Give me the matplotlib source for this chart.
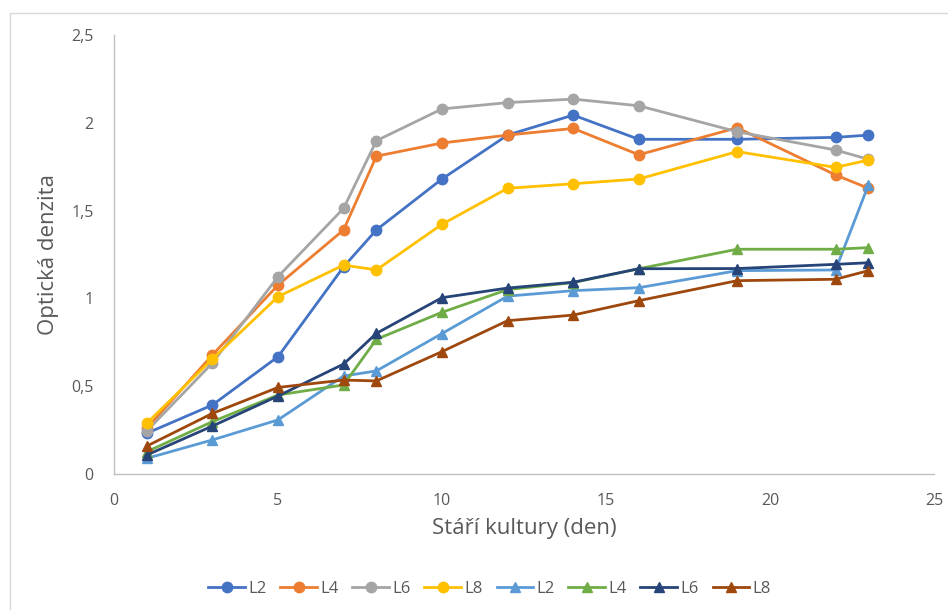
import matplotlib
matplotlib.use("Agg")
import matplotlib.pyplot as plt
from matplotlib.patches import Rectangle

plt.rcParams["font.family"] = ["Open Sans", "DejaVu Sans"]

days = [1, 3, 5, 7, 8, 10, 12, 14, 16, 19, 22, 23]

# circle-marker series
L2_a = [0.232, 0.393, 0.668, 1.180, 1.390, 1.680, 1.930, 2.044, 1.906, 1.906, 1.917, 1.930]
L4_a = [0.260, 0.678, 1.076, 1.390, 1.810, 1.885, 1.930, 1.968, 1.818, 1.972, 1.703, 1.627]
L6_a = [0.245, 0.632, 1.124, 1.513, 1.898, 2.079, 2.115, 2.135, 2.097, 1.949, 1.845, 1.792]
L8_a = [0.289, 0.655, 1.010, 1.190, 1.162, 1.422, 1.627, 1.653, 1.680, 1.836, 1.746, 1.788]

# triangle-marker series
L2_b = [0.089, 0.194, 0.308, 0.558, 0.587, 0.800, 1.013, 1.044, 1.061, 1.158, 1.162, 1.646]
L4_b = [0.127, 0.298, 0.450, 0.507, 0.767, 0.921, 1.050, 1.090, 1.169, 1.280, 1.280, 1.289]
L6_b = [0.108, 0.273, 0.444, 0.626, 0.801, 1.004, 1.059, 1.092, 1.169, 1.170, 1.194, 1.203]
L8_b = [0.159, 0.345, 0.493, 0.535, 0.530, 0.697, 0.873, 0.905, 0.987, 1.101, 1.109, 1.158]

labels = ["L2", "L4", "L6", "L8", "L2", "L4", "L6", "L8"]
series = [L2_a, L4_a, L6_a, L8_a, L2_b, L4_b, L6_b, L8_b]
colors = ["#4472C4", "#ED7D31", "#A5A5A5", "#FFC000",
          "#5B9BD5", "#70AD47", "#264478", "#9E480E"]
markers = ["o", "o", "o", "o", "^", "^", "^", "^"]

x_ticks = [0, 5, 10, 15, 20, 25]
y_ticks = [0, 0.5, 1, 1.5, 2, 2.5]
y_tick_labels = ["0", "0,5", "1", "1,5", "2", "2,5"]

W, H = 948, 610
fig = plt.figure(figsize=(W / 100, H / 100), dpi=100)

# chart frame (top and left edges visible)
fig.patches.append(Rectangle((10 / W, -0.1), 1.2, (H - 13) / H + 0.1,
                             transform=fig.transFigure, fill=False,
                             edgecolor="#D9D9D9", linewidth=1.0))

ax = fig.add_axes([114 / W, 1 - 474 / H, (934 - 114) / W, (474 - 35) / H])

for vals, lab, col, mk in zip(series, labels, colors, markers):
    ax.plot(days, vals, color=col, linewidth=2.0, marker=mk,
            markersize=7.5, label=lab,
            markeredgecolor=col, markerfacecolor=col)

ax.set_xlim(0, 25)
ax.set_ylim(0, 2.5)
ax.set_xticks(x_ticks)
ax.set_xticklabels([str(t) for t in x_ticks])
ax.set_yticks(y_ticks)
ax.set_yticklabels(y_tick_labels)
ax.tick_params(axis="both", length=0, labelsize=11.5, colors="#595959")
ax.tick_params(axis="x", pad=13.5)
ax.tick_params(axis="y", pad=14.5)

for side in ["top", "right"]:
    ax.spines[side].set_visible(False)
for side in ["left", "bottom"]:
    ax.spines[side].set_color("#BFBFBF")
    ax.spines[side].set_linewidth(1.0)

ax.set_xlabel("Stáří kultury (den)", fontsize=16, color="#595959", labelpad=7)
ax.set_ylabel("Optická denzita", fontsize=16, color="#595959", labelpad=9)

leg = fig.legend(loc="center", bbox_to_anchor=(489.5 / W, 1 - 589 / H),
                 ncol=8, frameon=False, fontsize=12, handlelength=2.2,
                 handletextpad=0.18, columnspacing=0.84,
                 labelcolor="#595959")

fig.savefig("out.png", dpi=100)
